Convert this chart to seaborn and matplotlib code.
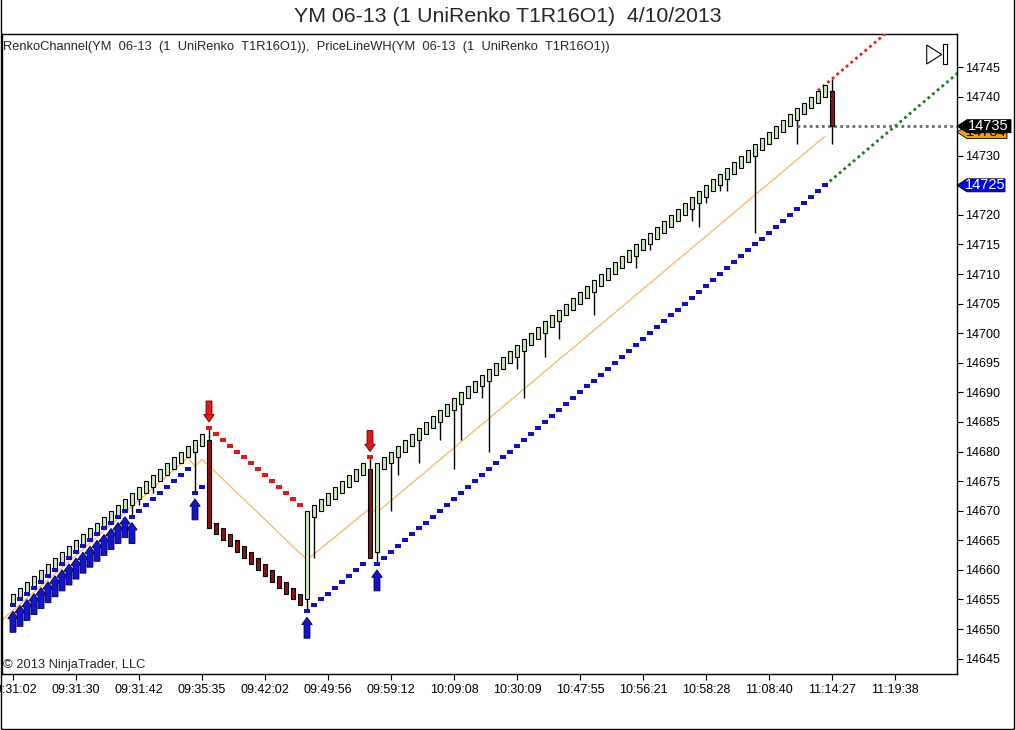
import matplotlib
matplotlib.use('Agg')
import numpy as np
import pandas as pd
import matplotlib.pyplot as plt
import matplotlib.transforms as mtransforms
from matplotlib.patches import Polygon, Rectangle, FancyArrow
import seaborn as sns

sns.set_style('white')
plt.rcParams['font.family'] = ['Liberation Sans', 'DejaVu Sans']

# %% data -- one UniRenko bar per index
bar_open = [
    14654, 14655, 14656, 14657, 14658, 14659, 14660, 14661, 14662, 14663,
    14664, 14665, 14666, 14667, 14668, 14669, 14670, 14671, 14672, 14673,
    14674, 14675, 14676, 14677, 14678, 14679, 14680, 14681, 14682, 14668,
    14667, 14666, 14665, 14664, 14663, 14662, 14661, 14660, 14659, 14658,
    14657, 14656, 14655, 14669, 14670, 14671, 14672, 14673, 14674, 14675,
    14676, 14677, 14663, 14677, 14678, 14679, 14680, 14681, 14682, 14683,
    14684, 14685, 14686, 14687, 14688, 14689, 14690, 14691, 14692, 14693,
    14694, 14695, 14696, 14697, 14698, 14699, 14700, 14701, 14702, 14703,
    14704, 14705, 14706, 14707, 14708, 14709, 14710, 14711, 14712, 14713,
    14714, 14715, 14716, 14717, 14718, 14719, 14720, 14721, 14722, 14723,
    14724, 14725, 14726, 14727, 14728, 14729, 14730, 14731, 14732, 14733,
    14734, 14735, 14736, 14737, 14738, 14739, 14740, 14741,
]
bar_close = [
    14656, 14657, 14658, 14659, 14660, 14661, 14662, 14663, 14664, 14665,
    14666, 14667, 14668, 14669, 14670, 14671, 14672, 14673, 14674, 14675,
    14676, 14677, 14678, 14679, 14680, 14681, 14682, 14683, 14667, 14666,
    14665, 14664, 14663, 14662, 14661, 14660, 14659, 14658, 14657, 14656,
    14655, 14654, 14670, 14671, 14672, 14673, 14674, 14675, 14676, 14677,
    14678, 14662, 14678, 14679, 14680, 14681, 14682, 14683, 14684, 14685,
    14686, 14687, 14688, 14689, 14690, 14691, 14692, 14693, 14694, 14695,
    14696, 14697, 14698, 14699, 14700, 14701, 14702, 14703, 14704, 14705,
    14706, 14707, 14708, 14709, 14710, 14711, 14712, 14713, 14714, 14715,
    14716, 14717, 14718, 14719, 14720, 14721, 14722, 14723, 14724, 14725,
    14726, 14727, 14728, 14729, 14730, 14731, 14732, 14733, 14734, 14735,
    14736, 14737, 14738, 14739, 14740, 14741, 14742, 14735,
]
# bars whose wick goes beyond the body
hi_wick_bars = [28, 51, 117]
hi_wick_vals = [14684, 14679, 14743]
lo_wick_bars = [17, 18, 20, 26, 42, 43, 52, 54, 55, 58, 61, 63, 64, 67, 68, 72,
                73, 76, 78, 83, 89, 91, 97, 98, 99, 101, 102, 106, 112, 117]
lo_wick_vals = [14669, 14671, 14673, 14673, 14653, 14662, 14661, 14670, 14676,
                14678, 14682, 14677, 14682, 14689, 14680, 14694, 14689, 14696,
                14699, 14703, 14711, 14714, 14719, 14718, 14722, 14724, 14724,
                14717, 14732, 14732]

# RenkoChannel dots
lower_bars = list(range(0, 28)) + list(range(42, 51)) + list(range(52, 117))
lower_vals = [
    14654, 14655, 14656, 14657, 14658, 14659, 14660, 14661, 14662, 14663,
    14664, 14665, 14666, 14667, 14668, 14669, 14670, 14669, 14670, 14671,
    14672, 14673, 14674, 14675, 14676, 14677, 14673, 14674,
    14653, 14654, 14655, 14656, 14657, 14658, 14659, 14660, 14661,
    14661, 14662, 14663, 14664, 14665, 14666, 14667, 14668, 14669, 14670,
    14671, 14672, 14673, 14674, 14675, 14676, 14677, 14678, 14679, 14680,
    14681, 14682, 14683, 14684, 14685, 14686, 14687, 14688, 14689, 14690,
    14691, 14692, 14693, 14694, 14695, 14696, 14697, 14698, 14699, 14700,
    14701, 14702, 14703, 14704, 14705, 14706, 14707, 14708, 14709, 14710,
    14711, 14712, 14713, 14714, 14715, 14716, 14717, 14718, 14719, 14720,
    14721, 14722, 14723, 14724, 14725,
]
upper_bars = list(range(28, 42)) + [51]
upper_vals = [14684, 14683, 14682, 14681, 14680, 14679, 14678, 14677, 14676,
              14675, 14674, 14673, 14672, 14671, 14679]

# signal arrows
up_arrow_bars = list(range(0, 18)) + [26, 42, 52]
down_arrow_bars = [28, 51]

# PriceLineWH zigzag
wh_bars = [-1.6, 25, 26, 27, 42, 51, 52, 116]
wh_vals = [14651.5, 14679, 14677.5, 14678.7, 14661.7, 14670.4, 14669.7, 14733.3]

# projections
upper_proj_bars, upper_proj_vals = [115, 135], [14741, 14761]
lower_proj_bars, lower_proj_vals = [116, 135], [14725, 14744]
last_line_bars, last_price = [112, 135], 14735

# right-axis price tags (value, fill, text colour, right edge px)
tag_vals = [14734, 14735, 14725]
tag_fill = ['#F5A000', 'black', '#0000F0']
tag_text = ['black', 'white', 'white']
tag_right = [50, 54, 48]

tick_bars = [0, 9, 18, 27, 36, 45, 54, 63, 72, 81, 90, 99, 108, 117, 126]
tick_labels = ['09:31:02', '09:31:30', '09:31:42', '09:35:35', '09:42:02',
               '09:49:56', '09:59:12', '10:09:08', '10:30:09', '10:47:55',
               '10:56:21', '10:58:28', '11:08:40', '11:14:27', '11:19:38']
ytick_vals = list(range(14645, 14750, 5))

# %% plot
bars = pd.DataFrame({'o': bar_open, 'c': bar_close})
bars['x'] = np.arange(len(bars))
bars['hi'] = bars[['o', 'c']].max(axis=1)
bars['lo'] = bars[['o', 'c']].min(axis=1)
bars.loc[hi_wick_bars, 'hi'] = hi_wick_vals
bars.loc[lo_wick_bars, 'lo'] = lo_wick_vals

fig = plt.figure(figsize=(10.16, 7.30), dpi=100)
ax = fig.add_axes([2 / 1016, 56 / 730, 955 / 1016, 640 / 730])
ax.set_xlim(-1.571, 134.857)
ax.set_ylim(14642.4, 14750.58)

# orange price line
sns.lineplot(x=wh_bars, y=wh_vals, ax=ax, color='#F7BE6A', linewidth=1.0,
             sort=False, estimator=None, zorder=2)

# wicks
ax.vlines(bars['x'], bars['lo'], bars['hi'], color='black', linewidth=1.0, zorder=3)

# bodies
up = bars[bars['c'] > bars['o']]
dn = bars[bars['c'] < bars['o']]
ax.bar(up['x'], up['c'] - up['o'], bottom=up['o'], width=0.62,
       color='#CBE8BC', edgecolor='black', linewidth=0.8, zorder=4)
ax.bar(dn['x'], dn['c'] - dn['o'], bottom=dn['o'], width=0.62,
       color='#8E1212', edgecolor='black', linewidth=0.8, zorder=4)

# channel dashes
dash = [(-1, -0.5), (1, -0.5), (1, 0.5), (-1, 0.5)]
sns.scatterplot(x=lower_bars, y=lower_vals, ax=ax, marker=dash, s=24,
                color='#1010C8', linewidth=0, zorder=5)
sns.scatterplot(x=upper_bars, y=upper_vals, ax=ax, marker=dash, s=24,
                color='#E01818', linewidth=0, zorder=5)

# projections
ax.plot(upper_proj_bars, upper_proj_vals, color='#E02020', linewidth=2,
        linestyle=(0, (1, 1.2)), zorder=3)
ax.plot(lower_proj_bars, lower_proj_vals, color='#1E7A1E', linewidth=2,
        linestyle=(0, (1, 1.2)), zorder=3)
ax.plot(last_line_bars, [last_price] * 2, color='#607070', linewidth=2,
        linestyle=(0, (1, 1.2)), zorder=3)

# arrows (tip 1 point off the dash)
low_map = dict(zip(lower_bars, lower_vals))
up_map = dict(zip(upper_bars, upper_vals))
arrow_kw = dict(width=0.85, head_width=1.5, head_length=1.25,
                length_includes_head=True, linewidth=0.6, zorder=6)
for b in up_arrow_bars:
    tip = low_map[b] - 1
    ax.add_patch(FancyArrow(b, tip - 3.55, 0, 3.55, facecolor='#1414C8',
                            edgecolor='#000050', **arrow_kw))
for b in down_arrow_bars:
    tip = up_map[b] + 1
    ax.add_patch(FancyArrow(b, tip + 3.55, 0, -3.55, facecolor='#E01818',
                            edgecolor='#600000', **arrow_kw))

# axes (labels hidden behind the price tags are left blank)
ax.set_xticks(tick_bars)
ax.set_xticklabels(tick_labels)
ax.set_yticks(ytick_vals)
ax.set_yticklabels(['' if v in tag_vals else str(v) for v in ytick_vals])
ax.yaxis.tick_right()
ax.tick_params(axis='both', direction='out', length=4, width=0.8, labelsize=9,
               colors='black', pad=2)
ax.tick_params(axis='x', bottom=True, pad=3)
ax.tick_params(axis='y', right=True, left=False)
for sp in ax.spines.values():
    sp.set_color('black')
    sp.set_linewidth(1.0)
ax.set_xlabel('')
ax.set_ylabel('')

# price tags on right axis
trans = mtransforms.blended_transform_factory(ax.transAxes, ax.transData)
h = 6.5 / 5.916
for v, fc, tc, r in zip(tag_vals, tag_fill, tag_text, tag_right):
    pts = [(1.0, v), (1 + 10 / 955, v + h), (1 + r / 955, v + h),
           (1 + r / 955, v - h), (1 + 10 / 955, v - h)]
    ax.add_patch(Polygon(pts, closed=True, transform=trans, facecolor=fc,
                         edgecolor='black', linewidth=0.6, clip_on=False, zorder=7))
    ax.text(1 + (r + 8) / 2 / 955, v, str(v), transform=trans, ha='center',
            va='center', fontsize=10.5, color=tc, clip_on=False, zorder=8)

# scroll-to-end icon
ax.add_patch(Polygon([(924.7 / 955, 1 - 11 / 640), (939.7 / 955, 1 - 20.5 / 640),
                      (924.7 / 955, 1 - 30 / 640)], closed=True, transform=ax.transAxes,
                     facecolor='white', edgecolor='black', linewidth=0.8, zorder=7))
ax.add_patch(Rectangle((941.3 / 955, 1 - 30 / 640), 3.4 / 955, 20 / 640,
                       transform=ax.transAxes, facecolor='white', edgecolor='black',
                       linewidth=0.8, zorder=7))

# texts
ax.text(1 / 955, 1 - 13 / 640,
        'RenkoChannel(YM  06-13  (1  UniRenko  T1R16O1)),  '
        'PriceLineWH(YM  06-13  (1  UniRenko  T1R16O1))',
        transform=ax.transAxes, ha='left', va='center', fontsize=9.3)
ax.text(1 / 955, 9 / 640, '\u00a9 2013 NinjaTrader, LLC', transform=ax.transAxes,
        ha='left', va='center', fontsize=9.3)
fig.text(0.5, 1 - 16 / 730, 'YM 06-13 (1 UniRenko T1R16O1)  4/10/2013',
         ha='center', va='center', fontsize=15.3)

# outer frame
fig.add_artist(Rectangle((0.5 / 1016, 1 / 730), 1013.5 / 1016, 740 / 730,
                         transform=fig.transFigure, fill=False,
                         edgecolor='black', linewidth=1.0))

plt.savefig('out.png', dpi=100)
plt.close()
